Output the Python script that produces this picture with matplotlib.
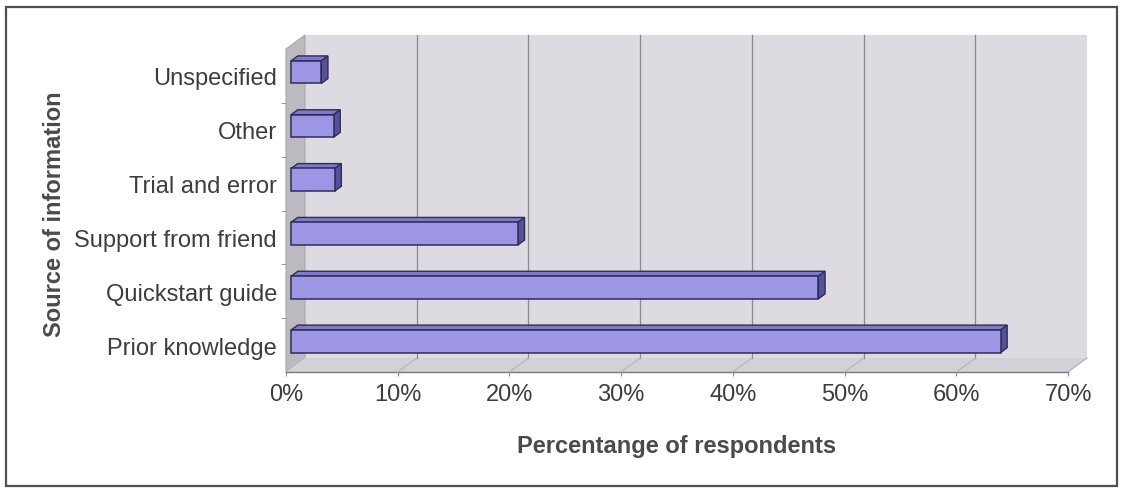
import matplotlib
matplotlib.use("Agg")
import matplotlib.pyplot as plt
from matplotlib.patches import Polygon, Rectangle

plt.rcParams['font.family'] = ['Liberation Sans', 'DejaVu Sans']

# Survey data (bottom to top)
categories = ["Prior knowledge", "Quickstart guide", "Support from friend",
              "Trial and error", "Other", "Unspecified"]
percentages = [63.5, 47.2, 20.3, 3.9, 3.8, 2.7]
x_ticks = [0, 10, 20, 30, 40, 50, 60, 70]
x_tick_labels = [f"{t}%" for t in x_ticks]

W, H = 1122, 489
fig = plt.figure(figsize=(W / 100, H / 100), dpi=100)
fig.patch.set_facecolor("white")

# Front plane of the pseudo-3D box
left_px, right_px, top_px, bot_px = 286, 1068, 50, 373
ax = fig.add_axes([left_px / W, (H - bot_px) / H,
                   (right_px - left_px) / W, (bot_px - top_px) / H])
xmax = 70
ax.set_xlim(0, xmax)
ax.set_ylim(-0.5, len(categories) - 0.5)
ax.patch.set_alpha(0)
for s in ax.spines.values():
    s.set_visible(False)

# depth vector (oblique projection) in data units
px_x = (right_px - left_px) / xmax
px_y = (bot_px - top_px) / len(categories)
Dx, Dy = 19 / px_x, 14 / px_y
y0, y1 = -0.5, len(categories) - 0.5

wall_c = "#dddae1"
floor_c = "#d3d0d7"
side_wall_c = "#bcbac0"
grid_c = "#8c8a90"

def poly(pts, **kw):
    p = Polygon(pts, closed=True, clip_on=False, **kw)
    ax.add_patch(p)
    return p

# back wall, left wall, floor
poly([(Dx, y0 + Dy), (xmax + Dx, y0 + Dy), (xmax + Dx, y1 + Dy), (Dx, y1 + Dy)],
     facecolor=wall_c, edgecolor="none", zorder=0.5)
poly([(0, y0), (Dx, y0 + Dy), (Dx, y1 + Dy), (0, y1)],
     facecolor=side_wall_c, edgecolor="#a9a7ad", linewidth=0.8, zorder=0.6)
poly([(0, y0), (xmax, y0), (xmax + Dx, y0 + Dy), (Dx, y0 + Dy)],
     facecolor=floor_c, edgecolor="none", zorder=0.6)
ax.plot([0, xmax], [y0, y0], color="#7a787e", lw=1.0, clip_on=False, zorder=0.7)
ax.plot([xmax, xmax + Dx], [y0, y0 + Dy], color="#b0aeb4", lw=0.8, clip_on=False, zorder=0.7)

# gridlines on back wall and floor
for t in x_ticks[1:-1]:
    ax.plot([t + Dx, t + Dx], [y0 + Dy, y1 + Dy], color=grid_c, lw=0.9,
            clip_on=False, zorder=0.8)
    ax.plot([t, t + Dx], [y0, y0 + Dy], color="#b5b3b9", lw=0.8,
            clip_on=False, zorder=0.8)

# bars: front face via barh, then top and side faces
d0, d1, h = 0.27, 0.62, 0.42
front_c, top_c, side_c, edge_c = "#9d96e4", "#7f79c9", "#56529a", "#2f2d55"
ypos = list(range(len(categories)))
ax.barh([y + d0 * Dy for y in ypos], percentages, left=d0 * Dx, height=h,
        color=front_c, edgecolor=edge_c, linewidth=1.1, zorder=3)
for y, v in zip(ypos, percentages):
    yt = y + h / 2
    yb = y - h / 2
    poly([(d0 * Dx, yt + d0 * Dy), (v + d0 * Dx, yt + d0 * Dy),
          (v + d1 * Dx, yt + d1 * Dy), (d1 * Dx, yt + d1 * Dy)],
         facecolor=top_c, edgecolor=edge_c, linewidth=1.0, zorder=2.8)
    poly([(v + d0 * Dx, yb + d0 * Dy), (v + d0 * Dx, yt + d0 * Dy),
          (v + d1 * Dx, yt + d1 * Dy), (v + d1 * Dx, yb + d1 * Dy)],
         facecolor=side_c, edgecolor=edge_c, linewidth=1.0, zorder=2.9)

# ticks and labels
text_c = "#3d3d3d"
ax.set_xticks(x_ticks)
ax.set_xticklabels(x_tick_labels, fontsize=17, color=text_c)
ax.set_yticks(ypos)
ax.set_yticklabels(categories, fontsize=17, color=text_c)
ax.tick_params(axis="x", length=3, color="#8c8a90", pad=5)
ax.tick_params(axis="y", which="major", length=0, pad=6.5)
ax.set_yticks([y + 0.5 for y in ypos[:-1]], minor=True)
ax.tick_params(axis="y", which="minor", length=3.5, color="#8c8a90", direction="out")

# axis titles
fig.text(677 / W, 1 - 447 / H, "Percentange of respondents", fontsize=17,
         fontweight="bold", color="#4a4a4a", ha="center", va="center")
fig.text(55 / W, 1 - 214 / H, "Source of information", fontsize=17,
         fontweight="bold", color="#4a4a4a", ha="center", va="center", rotation=90)

# outer chart border
fig.patches.append(Rectangle((6 / W, 1 - 487 / H), (1117 - 6) / W, (487 - 8) / H,
                             transform=fig.transFigure, fill=False,
                             edgecolor="#505050", linewidth=1.6))

fig.savefig("out.png", dpi=100)
